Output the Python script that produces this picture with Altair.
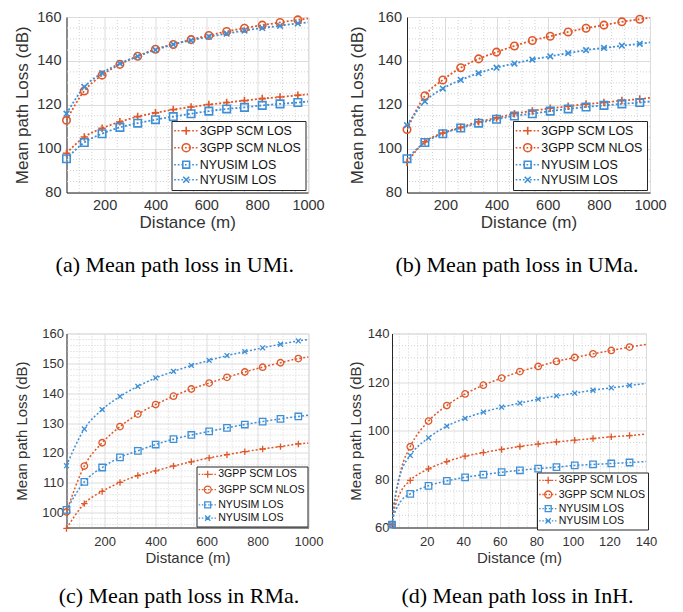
import altair as alt
import pandas as pd

# ---------------- data ----------------
SERIES = ["3GPP SCM LOS", "3GPP SCM NLOS", "NYUSIM LOS", "NYUSIM NLOS"]
COLORS = ["#E0582A", "#E0582A", "#3E8FD6", "#3E8FD6"]

# outdoor scenarios: distance (m)
MARK_X_OUT = [50, 120, 190, 260, 330, 400, 470, 540, 610, 680, 750, 820, 890, 960]
LINE_X_OUT = MARK_X_OUT + [1000]

# (a) UMi
UMI_3GPP_LOS = [97.9, 105.3, 109.3, 112.2, 114.6, 116.3, 117.8, 119.0, 120.1, 121.0, 121.9, 122.8, 123.5, 124.3, 124.7]
UMI_3GPP_NLOS = [112.9, 126.3, 133.5, 138.4, 142.1, 145.3, 147.5, 149.7, 151.6, 153.4, 154.9, 156.3, 157.5, 158.7, 159.3]
UMI_NYU_LOS = [95.4, 102.8, 106.8, 109.7, 111.6, 113.2, 114.6, 115.9, 117.1, 118.1, 118.8, 119.7, 120.4, 121.0, 121.5]
UMI_NYU_NLOS = [115.9, 128.1, 134.4, 138.8, 142.1, 145.0, 147.5, 149.4, 151.0, 152.4, 153.8, 155.0, 156.0, 157.1, 157.5]

# (b) UMa
UMA_3GPP_LOS = [93.8, 103.1, 107.1, 109.7, 112.2, 114.0, 115.9, 117.2, 118.4, 119.3, 120.3, 121.0, 121.9, 122.6, 123.1]
UMA_3GPP_NLOS = [108.7, 124.1, 131.3, 136.9, 140.9, 144.0, 146.8, 149.3, 151.2, 153.2, 154.9, 156.3, 157.8, 159.0, 159.6]
UMA_NYU_LOS = [95.4, 102.8, 106.8, 109.4, 111.6, 113.4, 114.9, 115.9, 117.1, 118.1, 119.0, 119.7, 120.4, 121.0, 121.5]
UMA_NYU_NLOS = [110.7, 121.5, 127.4, 131.3, 134.4, 136.9, 138.8, 140.6, 142.1, 143.5, 144.9, 145.9, 146.9, 147.8, 148.4]

# (c) RMa
RMA_3GPP_LOS = [94.7, 103.0, 107.1, 110.1, 112.4, 114.0, 115.6, 117.0, 118.3, 119.4, 120.4, 121.3, 122.1, 123.0, 123.3]
RMA_3GPP_NLOS = [100.2, 115.6, 123.4, 128.8, 133.0, 136.2, 139.0, 141.4, 143.4, 145.3, 147.1, 148.7, 150.2, 151.6, 152.1]
RMA_NYU_LOS = [100.9, 110.3, 115.1, 118.5, 120.7, 122.8, 124.6, 126.0, 127.2, 128.4, 129.5, 130.5, 131.4, 132.2, 132.6]
RMA_NYU_NLOS = [115.7, 128.0, 134.5, 138.9, 142.3, 145.1, 147.3, 149.3, 151.0, 152.6, 153.9, 155.2, 156.4, 157.5, 158.0]

# (d) InH: distance (m)
MARK_X_INH = [1, 11, 21, 31, 41, 51, 61, 71, 81, 91, 101, 111, 121, 131]
LINE_X_INH = [1, 2, 3, 6, 11, 21, 31, 41, 51, 61, 71, 81, 91, 101, 111, 121, 131, 140]
INH_3GPP_LOS = [61.2, 66.5, 69.5, 75.0, 79.4, 84.2, 87.2, 89.4, 90.9, 92.2, 93.4, 94.4, 95.3, 96.0, 96.7, 97.4, 97.9, 98.5]
INH_3GPP_NLOS = [61.2, 68.5, 73.0, 84.0, 93.3, 103.9, 110.3, 115.1, 118.7, 121.6, 124.3, 126.4, 128.5, 130.1, 131.6, 133.0, 134.4, 135.5]
INH_NYU_LOS = [61.2, 65.0, 67.0, 71.0, 73.9, 77.2, 79.2, 80.7, 81.8, 82.8, 83.6, 84.3, 84.9, 85.6, 86.0, 86.4, 86.8, 87.2]
INH_NYU_NLOS = [61.2, 69.0, 74.0, 83.0, 89.7, 97.0, 101.8, 105.0, 107.6, 109.6, 111.3, 112.9, 114.3, 115.4, 116.6, 117.6, 118.6, 119.4]

# axes ticks
X_TICKS_OUT = [200, 400, 600, 800, 1000]
X_MINOR_OUT = [v for v in range(100, 1000, 50) if v % 200 != 0]
Y_TICKS_U = [80, 100, 120, 140, 160]
Y_MINOR_U = [v for v in range(85, 160, 5) if v % 20 != 0]
Y_TICKS_R = [100, 110, 120, 130, 140, 150, 160]
Y_MINOR_R = [v for v in range(96, 160, 2) if v % 10 != 0]
X_TICKS_INH = [20, 40, 60, 80, 100, 120, 140]
X_MINOR_INH = [v for v in range(5, 140, 5) if v % 20 != 0]
Y_TICKS_INH = [60, 80, 100, 120, 140]
Y_MINOR_INH = [v for v in range(65, 140, 5) if v % 20 != 0]

# ---------------- styling helpers ----------------
PLUS = "M-1,0H1M0,-1V1"
XMARK = "M-0.75,-0.75L0.75,0.75M-0.75,0.75L0.75,-0.75"
POINT_SHAPES = [PLUS, "circle", "square", XMARK]
AXIS_FONT = "Liberation Sans"
TXT = "#333333"


def legend_paths(x0, x1, cx):
    dashes = []
    x = x0
    while x < x1 - 0.05:
        dashes.append("M%.2f,0H%.2f" % (x, min(x + 0.42, x1)))
        x += 0.9
    line = "".join(dashes)
    plus = "M%.2f,0H%.2fM%.2f,-1V1" % (cx - 1, cx + 1, cx)
    circ = "M%.2f,0A1,1 0 1,0 %.2f,0A1,1 0 1,0 %.2f,0" % (cx - 1, cx + 1, cx - 1)
    sq = "M%.2f,-0.85H%.2fV0.85H%.2fZ" % (cx - 0.85, cx + 0.85, cx - 0.85)
    xm = "M%.2f,-0.75L%.2f,0.75M%.2f,0.75L%.2f,-0.75" % (cx - 0.75, cx + 0.75, cx - 0.75, cx + 0.75)
    return [line + plus, line + circ, line + sq, line + xm]


def build_frames(line_x, mark_x, ys):
    rows = []
    for name, vals in zip(SERIES, ys):
        for xv, yv in zip(line_x, vals):
            rows.append({"x": xv, "y": yv, "series": name})
    lines = pd.DataFrame(rows)
    pts = lines[lines["x"].isin(mark_x)].reset_index(drop=True)
    return lines, pts


def panel(line_x, mark_x, ys, xdom, ydom, xticks, yticks, xminor, yminor,
          width, height, caption, cap_dx, cap_off, big, leg_rp, leg_off, ytp_extra=0):
    lines, pts = build_frames(line_x, mark_x, ys)
    if big:
        lab_fs, tit_fs, lp_y, lp_x, tp_y, tp_x = 14.5, 17, 5.5, 5.5, 5, 3
        leg_fs, sym, sw, lw, psize = 12.4, 64, 1.6, 1.8, 56
        lpaths = legend_paths(-1.75, 4.25, 1.25)
        leg = dict(padding=3.5, labelOffset=12.4)
    else:
        lab_fs, tit_fs, lp_y, lp_x, tp_y, tp_x = 13, 15, 3, 8, 4, 2
        leg_fs, sym, sw, lw, psize = 10.6, 49, 1.3, 1.5, 42
        lpaths = legend_paths(-1.6, 3.55, 0.97)
        leg = dict(padding=2.5, labelOffset=8.6)
    tp_y += ytp_extra

    xs = alt.Scale(domain=xdom, nice=False, zero=False)
    ys_ = alt.Scale(domain=ydom, nice=False, zero=False)
    xaxis = alt.Axis(values=xticks, title="Distance (m)", grid=True, ticks=False, format="d",
                     labelFontSize=lab_fs, titleFontSize=tit_fs, labelPadding=lp_x,
                     titlePadding=tp_x, labelFont=AXIS_FONT, titleFont=AXIS_FONT,
                     labelColor=TXT, titleColor=TXT, titleFontWeight="normal",
                     domainColor="#262626", gridColor="#DCDCDC", labelFlush=False)
    yaxis = alt.Axis(values=yticks, title="Mean path Loss (dB)", grid=True, ticks=False, format="d",
                     labelFontSize=lab_fs, titleFontSize=tit_fs, labelPadding=lp_y,
                     titlePadding=tp_y, labelFont=AXIS_FONT, titleFont=AXIS_FONT,
                     labelColor=TXT, titleColor=TXT, titleFontWeight="normal",
                     domainColor="#262626", gridColor="#DCDCDC")
    X = alt.X("x:Q", scale=xs, axis=xaxis)
    Y = alt.Y("y:Q", scale=ys_, axis=yaxis)
    cscale = alt.Scale(domain=SERIES, range=COLORS)

    minor_x = alt.Chart(pd.DataFrame({"x": xminor})).mark_rule(
        stroke="#D2D2D2", strokeDash=[1, 2], strokeWidth=1).encode(x=X)
    minor_y = alt.Chart(pd.DataFrame({"y": yminor})).mark_rule(
        stroke="#D2D2D2", strokeDash=[1, 2], strokeWidth=1).encode(y=Y)

    line_layer = alt.Chart(lines).mark_line(
        strokeDash=[2, 2], strokeWidth=lw, interpolate="monotone", clip=True
    ).encode(x=X, y=Y, color=alt.Color("series:N", scale=cscale, legend=None))

    point_layer = alt.Chart(pts).mark_point(
        filled=False, size=psize, strokeWidth=sw, clip=False, opacity=1
    ).encode(
        x=X, y=Y,
        color=alt.Color("series:N", scale=cscale, legend=None),
        shape=alt.Shape("series:N", scale=alt.Scale(domain=SERIES, range=POINT_SHAPES), legend=None),
    )

    legend_def = dict(
        title=None, orient="bottom-right", labelFont=AXIS_FONT, labelFontSize=leg_fs,
        labelColor="#111111", symbolSize=sym, symbolStrokeWidth=sw,
        strokeColor="#262626", fillColor="white", cornerRadius=0,
        rowPadding=leg_rp, offset=leg_off,
        labelExpr="datum.label == 'NYUSIM NLOS' ? 'NYUSIM LOS' : datum.label",
        **leg,
    )
    legend_layer = alt.Chart(pts).mark_point(
        filled=False, size=sym, strokeWidth=sw, opacity=1
    ).encode(
        color=alt.Color("series:N", scale=cscale, legend=alt.Legend(**legend_def)),
        shape=alt.Shape("series:N", scale=alt.Scale(domain=SERIES, range=lpaths),
                        legend=alt.Legend(**legend_def)),
    ).transform_filter("false")

    return alt.layer(minor_x, minor_y, line_layer, point_layer, legend_layer).resolve_scale(
        color="independent", shape="independent"
    ).properties(
        width=width, height=height,
        title=alt.TitleParams(
            text=caption, orient="bottom", anchor="middle", frame="group",
            font="Liberation Serif", fontSize=22, fontWeight="normal", color="black",
            offset=cap_off, dx=cap_dx,
        ),
    )


pa = panel(LINE_X_OUT, MARK_X_OUT, [UMI_3GPP_LOS, UMI_3GPP_NLOS, UMI_NYU_LOS, UMI_NYU_NLOS],
           [50, 1000], [80, 160], X_TICKS_OUT, Y_TICKS_U, X_MINOR_OUT, Y_MINOR_U,
           241.5, 175.5, "(a) Mean path loss in UMi.", -12.5, 24, True, 2.0, 3, ytp_extra=0)
pb = panel(LINE_X_OUT, MARK_X_OUT, [UMA_3GPP_LOS, UMA_3GPP_NLOS, UMA_NYU_LOS, UMA_NYU_NLOS],
           [50, 1000], [80, 160], X_TICKS_OUT, Y_TICKS_U, X_MINOR_OUT, Y_MINOR_U,
           243, 175.5, "(b) Mean path loss in UMa.", -11.5, 24, True, 2.0, 3, ytp_extra=6)
pc = panel(LINE_X_OUT, MARK_X_OUT, [RMA_3GPP_LOS, RMA_3GPP_NLOS, RMA_NYU_LOS, RMA_NYU_NLOS],
           [50, 1000], [95, 160], X_TICKS_OUT, Y_TICKS_R, X_MINOR_OUT, Y_MINOR_R,
           242, 194, "(c) Mean path loss in RMa.", -8.5, 20.5, False, 2.3, 1, ytp_extra=8)
pd_ = panel(LINE_X_INH, MARK_X_INH, [INH_3GPP_LOS, INH_3GPP_NLOS, INH_NYU_LOS, INH_NYU_NLOS],
            [1, 140], [60, 140], X_TICKS_INH, Y_TICKS_INH, X_MINOR_INH, Y_MINOR_INH,
            254, 194, "(d) Mean path loss in InH.", -1.5, 20.5, False, 1.2, -2)

chart = alt.concat(
    pa, pb, pc, pd_, columns=2, align="none", bounds="full",
    spacing=alt.RowColnumber(row=50.5, column=21.5),
).properties(
    padding={"left": 4.5, "top": 0, "right": 2, "bottom": 0}
).configure_view(stroke="#262626", strokeWidth=1).configure(background="white")

chart.save("out.html", embed_options={"renderer": "svg", "actions": False})
